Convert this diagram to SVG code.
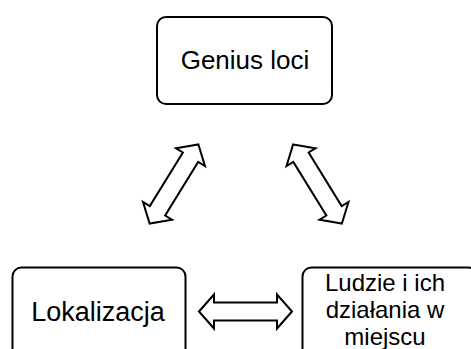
<svg xmlns="http://www.w3.org/2000/svg" xmlns:xlink="http://www.w3.org/1999/xlink" width="471" height="349" viewBox="0 0 471 349">
<style>
.box{fill:#fff;stroke:#000;stroke-width:2}
.arr{fill:#fff;stroke:#000;stroke-width:2;stroke-linejoin:miter}
text{font-family:"Liberation Sans",Arial,sans-serif;fill:#000;text-anchor:middle}
.t26{font-size:26px}
.t27{font-size:27px}
.t24{font-size:24px}
</style>
<defs>
<path id="dbl" d="M-46.5,0 L-31.5,-17 L-31.5,-9 L31.5,-9 L31.5,-17 L46.5,0 L31.5,17 L31.5,9 L-31.5,9 L-31.5,17 Z"/>
</defs>
<rect width="471" height="349" fill="#fff"/>
<g id="node-genius">
<rect class="box" x="157" y="17" width="175" height="87" rx="9"/>
<text class="t26" x="245" y="69">Genius loci</text>
</g>
<g id="node-lokalizacja">
<rect class="box" x="12.5" y="267.5" width="173" height="100" rx="9"/>
<text class="t27" x="98" y="321">Lokalizacja</text>
</g>
<g id="node-ludzie">
<rect class="box" x="302.5" y="267.5" width="175" height="100" rx="9"/>
<text class="t24" x="385" y="291">Ludzie i ich</text>
<text class="t24" x="385" y="318">działania w</text>
<text class="t24" x="385" y="345">miejscu</text>
</g>
<g id="connectors">
<use xlink:href="#dbl" class="arr" transform="translate(245.5,311.5)"/>
<use xlink:href="#dbl" class="arr" transform="translate(174,184) rotate(-58.4)"/>
<use xlink:href="#dbl" class="arr" transform="translate(317.5,184) rotate(58.4)"/>
</g>
</svg>
